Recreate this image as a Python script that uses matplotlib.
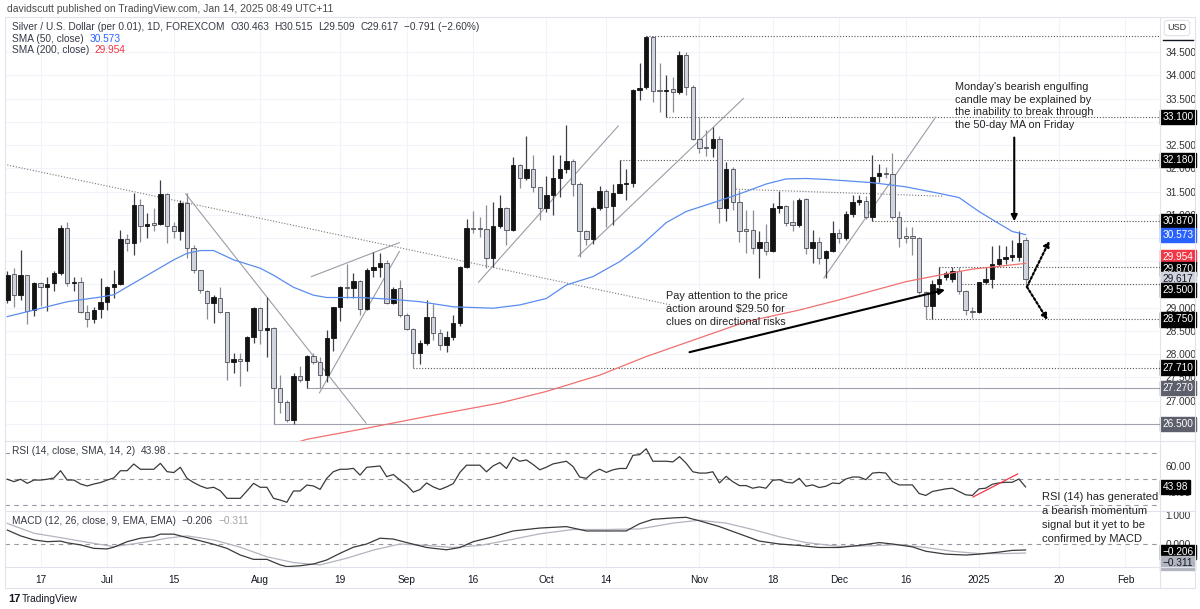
import numpy as np
import pandas as pd
import matplotlib
matplotlib.use('Agg')
import matplotlib.pyplot as plt

plt.rcParams['font.family'] = ['Liberation Sans', 'DejaVu Sans']

# Silver / USD daily bars, 10 Jun 2024 - 13 Jan 2025 (no bars on 25 Dec and 1 Jan)
dates = pd.bdate_range('2024-06-10', '2025-01-13')
dates = dates[~dates.isin(pd.to_datetime(['2024-12-25', '2025-01-01']))]

opens = [29.17, 29.72, 29.28, 29.71, 28.95, 29.54, 29.45, 29.53, 29.74, 30.72,
         29.53, 29.56, 28.90, 28.75, 28.97, 29.13, 29.44, 29.51, 30.48, 30.39,
         31.20, 30.75, 30.80, 30.80, 31.44, 30.76, 30.66, 31.25, 30.28, 29.81,
         29.37, 29.11, 29.22, 28.90, 27.83, 27.90, 27.86, 28.38, 28.99, 28.52,
         28.56, 27.27, 26.98, 26.59, 27.54, 27.45, 27.96, 27.84, 27.55, 28.34,
         29.02, 29.44, 29.43, 29.58, 28.97, 29.81, 29.88, 29.97, 29.11, 29.42,
         28.84, 28.54, 28.03, 28.25, 28.81, 28.45, 28.20, 28.38, 28.67, 29.87,
         30.71, 30.71, 30.69, 30.06, 30.76, 31.15, 30.67, 32.08, 31.80, 31.99,
         31.59, 31.14, 31.42, 31.80, 31.99, 32.16, 31.66, 30.65, 30.47, 31.14,
         31.52, 31.18, 31.47, 31.66, 31.68, 33.68, 33.75, 34.83, 33.67, 33.66,
         33.70, 33.64, 34.44, 33.75, 32.63, 32.45, 32.43, 32.62, 31.14, 31.99,
         31.28, 30.68, 30.68, 30.28, 30.42, 30.23, 31.15, 31.19, 30.84, 30.78,
         31.33, 30.28, 30.42, 30.06, 30.22, 30.61, 30.49, 31.02, 31.28, 31.30,
         30.96, 31.83, 31.90, 31.87, 30.96, 30.53, 30.53, 30.51, 29.33, 29.04,
         29.50, 29.67, 29.61, 29.79, 29.37, 28.94, 28.90, 29.55, 29.61, 29.94,
         30.04, 30.10, 30.10, 30.463]
highs = [29.80, 29.85, 30.24, 29.71, 29.56, 29.56, 29.67, 29.78, 30.78, 30.85,
         29.67, 29.67, 29.06, 29.02, 29.63, 29.47, 29.81, 30.67, 30.59, 31.46,
         31.33, 31.03, 31.14, 31.75, 31.46, 30.85, 31.32, 31.46, 30.35, 29.81,
         29.38, 29.28, 29.44, 28.90, 28.02, 28.02, 28.39, 29.01, 29.01, 29.24,
         28.59, 27.55, 27.02, 27.59, 27.75, 27.98, 28.02, 27.95, 28.52, 29.02,
         29.47, 29.95, 29.74, 29.60, 29.85, 30.20, 30.17, 30.03, 29.44, 29.60,
         28.88, 28.56, 28.31, 29.17, 29.09, 28.55, 28.50, 28.85, 29.90, 30.90,
         31.07, 30.96, 31.21, 31.28, 31.42, 31.17, 32.25, 32.10, 32.69, 32.29,
         31.60, 31.83, 32.29, 32.29, 32.93, 32.19, 31.71, 30.67, 31.17, 31.62,
         31.55, 31.67, 32.18, 31.99, 33.70, 34.26, 34.84, 34.84, 34.26, 34.00,
         33.97, 34.52, 34.51, 33.79, 33.10, 32.82, 32.89, 32.69, 32.14, 32.03,
         31.53, 31.10, 31.10, 30.64, 30.81, 31.25, 31.52, 31.21, 31.32, 31.35,
         31.35, 30.67, 30.53, 30.24, 30.87, 30.70, 31.07, 31.42, 31.42, 31.40,
         32.28, 32.09, 32.03, 32.32, 31.09, 30.74, 30.74, 30.53, 29.35, 29.60,
         29.87, 29.80, 29.88, 29.87, 29.38, 29.02, 29.56, 29.88, 30.33, 30.35,
         30.33, 30.46, 30.64, 30.515]
lows = [29.10, 29.02, 29.17, 28.65, 28.83, 29.03, 28.92, 29.35, 29.71, 29.47,
        29.35, 28.88, 28.58, 28.68, 28.77, 28.95, 29.21, 29.49, 30.21, 30.14,
        30.42, 30.50, 30.64, 30.78, 30.39, 30.50, 30.46, 30.07, 29.74, 29.31,
        28.75, 28.67, 28.88, 27.45, 27.59, 27.32, 27.65, 28.25, 28.22, 27.95,
        26.50, 26.73, 26.55, 26.50, 27.41, 27.27, 27.80, 27.27, 27.41, 28.06,
        28.72, 29.20, 29.20, 28.84, 28.95, 29.67, 29.67, 29.09, 29.09, 28.81,
        28.52, 27.71, 27.79, 28.20, 28.30, 28.10, 28.05, 28.30, 28.60, 29.85,
        30.60, 30.53, 29.85, 29.88, 30.71, 30.35, 30.64, 31.57, 31.75, 31.50,
        30.89, 31.05, 30.99, 31.39, 31.90, 31.41, 30.10, 30.35, 30.38, 31.10,
        30.74, 30.78, 31.46, 31.32, 31.60, 33.47, 33.70, 33.43, 33.22, 33.10,
        33.22, 33.60, 33.57, 32.60, 32.32, 32.26, 32.25, 30.82, 30.87, 31.10,
        30.42, 30.18, 30.15, 29.65, 30.13, 30.20, 31.03, 30.75, 30.64, 30.73,
        30.15, 29.97, 29.95, 29.63, 30.20, 30.40, 30.45, 30.95, 31.20, 30.90,
        30.87, 31.71, 31.80, 30.90, 30.30, 30.40, 30.13, 29.30, 28.75, 28.75,
        29.42, 29.60, 29.55, 29.30, 28.85, 28.77, 28.88, 29.50, 29.42, 29.90,
        29.95, 30.00, 30.00, 29.509]
closes = [29.71, 29.28, 29.71, 28.94, 29.54, 29.44, 29.52, 29.74, 30.72, 29.53,
          29.56, 28.90, 28.75, 28.95, 29.13, 29.44, 29.51, 30.48, 30.39, 31.20,
          30.75, 30.80, 30.79, 31.44, 30.76, 30.66, 31.25, 30.28, 29.81, 29.38,
          29.11, 29.24, 28.90, 27.83, 27.90, 27.86, 28.38, 28.99, 28.52, 28.56,
          27.27, 26.98, 26.59, 27.53, 27.45, 27.96, 27.84, 27.55, 28.34, 29.02,
          29.44, 29.43, 29.58, 28.97, 29.81, 29.88, 29.97, 29.11, 29.40, 28.84,
          28.54, 28.03, 28.25, 28.81, 28.45, 28.20, 28.38, 28.67, 29.87, 30.71,
          30.69, 30.69, 30.06, 30.76, 31.15, 30.67, 32.08, 31.80, 31.99, 31.59,
          31.14, 31.42, 31.80, 31.99, 32.16, 31.66, 30.64, 30.47, 31.14, 31.52,
          31.17, 31.47, 31.66, 31.68, 33.68, 33.73, 34.83, 33.67, 33.66, 33.69,
          33.64, 34.44, 33.75, 32.63, 32.43, 32.43, 32.62, 31.14, 31.99, 31.28,
          30.66, 30.66, 30.28, 30.42, 30.23, 31.15, 31.19, 30.83, 30.78, 31.32,
          30.28, 30.42, 30.06, 30.22, 30.61, 30.49, 31.02, 31.28, 31.31, 30.96,
          31.82, 31.90, 31.87, 30.96, 30.51, 30.51, 30.51, 29.33, 29.04, 29.50,
          29.62, 29.74, 29.79, 29.37, 28.95, 28.90, 29.55, 29.61, 29.94, 30.04,
          30.10, 30.11, 30.40, 29.617]

# moving averages (bar index, value)
sma50_idx = [0, 4, 9, 14, 16, 19, 22, 25, 27, 29, 31, 34, 38, 40, 43, 46, 48, 53, 58, 62,
             67, 73, 77, 81, 84, 88, 92, 95, 99, 102, 105, 108, 111, 114, 117, 120, 123,
             126, 130, 135, 140, 143, 146, 149, 151, 153]
sma50_val = [28.81, 28.95, 29.13, 29.23, 29.28, 29.53, 29.78, 30.03, 30.17, 30.23, 30.23,
             30.03, 29.85, 29.70, 29.44, 29.27, 29.22, 29.22, 29.18, 29.13, 29.02, 28.99,
             29.06, 29.20, 29.49, 29.67, 29.99, 30.31, 30.83, 31.07, 31.21, 31.35, 31.50,
             31.66, 31.77, 31.78, 31.76, 31.73, 31.69, 31.60, 31.46, 31.37, 31.07, 30.81,
             30.64, 30.573]
sma200_idx = [40, 45, 54, 63, 74, 81, 89, 96, 104, 111, 119, 125, 135, 140, 145, 153]
sma200_val = [25.95, 26.17, 26.41, 26.66, 26.95, 27.20, 27.55, 27.95, 28.35, 28.70, 28.95,
              29.17, 29.56, 29.70, 29.83, 29.954]

rsi = [49.8, 48.0, 49.8, 46.7, 49.2, 49.2, 49.8, 50.8, 56.3, 49.2,
       49.2, 46.2, 44.7, 46.2, 47.3, 49.2, 50.8, 56.3, 56.3, 61.4,
       57.4, 57.4, 57.4, 61.9, 55.6, 54.9, 58.9, 50.5, 47.3, 44.7,
       42.9, 43.7, 41.1, 35.3, 35.3, 35.3, 40.9, 46.7, 43.7, 43.7,
       35.3, 34.0, 32.3, 40.9, 40.9, 45.4, 44.7, 42.1, 50.5, 55.6,
       57.4, 57.4, 58.1, 53.0, 58.9, 59.4, 59.9, 51.8, 53.4, 49.2,
       45.5, 40.0, 42.0, 47.0, 44.0, 42.0, 44.0, 46.5, 55.0, 60.5,
       60.5, 60.5, 55.5, 60.0, 62.5, 58.0, 66.5, 63.5, 64.5, 61.0,
       57.0, 59.0, 61.5, 62.5, 63.5, 59.5, 51.5, 50.5, 55.0, 57.5,
       55.0, 57.0, 58.0, 58.0, 68.0, 68.5, 73.0, 63.5, 63.5, 63.5,
       63.0, 67.0, 62.0, 55.5, 54.5, 54.5, 55.5, 47.0, 52.0, 48.0,
       45.0, 45.0, 43.0, 44.0, 43.0, 49.0, 49.5, 47.5, 47.0, 50.5,
       44.5, 45.5, 43.5, 44.5, 47.0, 46.5, 50.0, 51.5, 51.5, 49.5,
       54.5, 55.0, 54.5, 48.0, 45.5, 45.5, 45.5, 39.0, 37.5, 40.5,
       41.5, 42.5, 43.0, 40.5, 38.0, 37.5, 42.5, 43.0, 46.0, 47.0,
       47.5, 47.5, 50.0, 43.98]

macd_idx = [0, 2, 4, 6, 8, 9, 11, 13, 15, 16, 18, 20, 22, 23, 25, 26, 29, 31, 33, 35,
            37, 39, 41, 42, 44, 46, 48, 50, 52, 54, 56, 58, 60, 63, 66, 68, 70, 73, 76,
            80, 84, 87, 90, 93, 95, 97, 100, 102, 104, 107, 110, 113, 116, 119, 122,
            125, 128, 131, 133, 136, 138, 141, 144, 146, 149, 151, 153]
macd_val = [0.48, 0.28, 0.14, 0.08, 0.10, 0.04, -0.03, -0.15, -0.17, -0.11, 0.08, 0.20,
            0.25, 0.34, 0.34, 0.28, 0.11, -0.01, -0.15, -0.38, -0.53, -0.53, -0.72, -0.78,
            -0.75, -0.69, -0.55, -0.32, -0.11, 0.00, 0.20, 0.17, 0.05, -0.12, -0.20, -0.12,
            0.08, 0.25, 0.45, 0.55, 0.60, 0.45, 0.45, 0.45, 0.70, 0.85, 0.90, 0.92, 0.80,
            0.60, 0.35, 0.10, 0.00, -0.05, -0.12, -0.12, -0.05, 0.05, 0.00, -0.10, -0.25,
            -0.35, -0.38, -0.35, -0.28, -0.22, -0.206]
signal_idx = [0, 4, 8, 12, 16, 20, 24, 27, 31, 35, 39, 43, 47, 51, 55, 59, 63, 67, 71, 75,
              80, 85, 90, 95, 100, 104, 108, 112, 116, 120, 125, 130, 134, 138, 142, 146,
              150, 153]
signal_val = [0.71, 0.37, 0.22, 0.06, -0.09, 0.04, 0.20, 0.28, 0.14, -0.11, -0.44, -0.64,
              -0.72, -0.49, -0.21, 0.00, -0.05, -0.12, -0.05, 0.12, 0.35, 0.50, 0.50, 0.52,
              0.72, 0.82, 0.72, 0.50, 0.25, 0.05, -0.08, -0.06, -0.02, -0.12, -0.25, -0.33,
              -0.33, -0.311]

tick_labels = ['17', 'Jul', '15', 'Aug', '19', 'Sep', '16', 'Oct', '14', 'Nov', '18', 'Dec',
               '16', '2025', '20', 'Feb']
tick_dates = ['2024-06-17', '2024-07-01', '2024-07-15', '2024-08-01', '2024-08-19',
              '2024-09-02', '2024-09-16', '2024-10-01', '2024-10-14', '2024-11-01',
              '2024-11-18', '2024-12-02', '2024-12-16', '2025-01-02', '2025-01-20',
              '2025-02-03']
price_ticks = [27.0, 27.5, 28.0, 28.5, 29.0, 31.0, 31.5, 32.0, 32.5, 33.5, 34.0, 34.5]

# ---------------------------------------------------------------
W, H = 1200, 609
fig = plt.figure(figsize=(W / 100, H / 100), dpi=100)
fig.patch.set_facecolor('white')


def px_axes(x0, y0, x1, y1):
    return fig.add_axes([x0 / W, 1 - y1 / H, (x1 - x0) / W, (y1 - y0) / H])


def fx(x):
    return x / W


def fy(y):
    return 1 - y / H


# bar index of each tick date (future dates continue on business days)
n = len(dates)
tick_pos = []
for d in pd.to_datetime(tick_dates):
    if d <= dates[-1]:
        tick_pos.append(int(np.searchsorted(dates, d)))
    else:
        tick_pos.append(n - 1 + len(pd.bdate_range(dates[-1], d)) - 1)

X0, X1 = 5, 1160
xlim = (-0.35, 173.2)
grid_c = '#f0f3fa'
txt_c = '#131722'

ax = px_axes(X0, 17, X1, 441)
ax_rsi = px_axes(X0, 441, X1, 511)
ax_macd = px_axes(X0, 511, X1, 567)

for a in (ax, ax_rsi, ax_macd):
    a.set_xlim(*xlim)
    for s in a.spines.values():
        s.set_visible(False)
    a.set_xticks(tick_pos)
    a.tick_params(axis='both', length=0, labelsize=7.3, labelcolor='#333333')
    a.yaxis.tick_right()
    a.grid(True, color=grid_c, lw=0.8)
    a.set_axisbelow(True)
    a.set_facecolor('none')
    a.tick_params(axis='y', pad=4)
ax.tick_params(axis='x', labelbottom=False)
ax_rsi.tick_params(axis='x', labelbottom=False)
ax_macd.set_xticklabels(tick_labels)
ax_macd.tick_params(axis='x', pad=6, labelsize=7.3, labelcolor=txt_c)

# ---------------- main price pane ----------------
ax.set_ylim(26.134, 35.253)
ax.set_yticks(np.arange(26.5, 35.0, 0.5))
ax.set_yticklabels([f'{v:.3f}' if round(v, 1) in price_ticks else ''
                    for v in np.arange(26.5, 35.0, 0.5)])

o = np.array(opens); h = np.array(highs); l = np.array(lows); c = np.array(closes)
x = np.arange(n)
up = c >= o
ax.vlines(x[up], l[up], h[up], color='#3c3f48', lw=0.9, zorder=3)
ax.vlines(x[~up], l[~up], h[~up], color='#8a8d96', lw=0.9, zorder=3)
body_lo = np.minimum(o, c)
body_h = np.maximum(np.abs(c - o), 0.025)
ax.bar(x[up], body_h[up], bottom=body_lo[up], width=0.66, color='#131313',
       edgecolor='#131313', lw=0.6, zorder=4)
ax.bar(x[~up], body_h[~up], bottom=body_lo[~up], width=0.66, color='#d1d4dc',
       edgecolor='#4a4d56', lw=0.6, zorder=4)

ax.plot(sma50_idx, sma50_val, color='#5b8cf0', lw=0.9, zorder=5)
ax.plot(sma200_idx, sma200_val, color='#f07070', lw=0.9, zorder=5)

# horizontal levels (start bar, price, style)
dot = (0, (1, 1.6))
levels = [(96, 34.84, 'dot'), (99, 33.10, 'dot'), (92, 32.18, 'dot'), (130, 30.87, 'dot'),
          (140, 29.87, 'dot'), (143, 29.50, 'dot'), (138, 28.75, 'dot'), (61, 27.71, 'dot'),
          (45, 27.27, 'solid'), (40, 26.50, 'solid')]
for i0, p, st in levels:
    if st == 'dot':
        ax.plot([i0, xlim[1]], [p, p], color='#555555', lw=0.8, ls=dot, zorder=2)
    else:
        ax.plot([i0, xlim[1]], [p, p], color='#a0a3ab', lw=0.8, zorder=2)

# trend lines drawn on the chart
trends = [(0, 32.07, 99.7, 29.06, 'dot'), (26.8, 31.45, 53.9, 26.52, 'solid'),
          (45.7, 29.67, 58.9, 30.40, 'solid'), (46.9, 27.17, 58.9, 30.21, 'solid'),
          (70.8, 29.55, 91.8, 32.91, 'solid'), (85.8, 30.11, 110.6, 33.50, 'solid'),
          (122.7, 29.64, 139.5, 33.10, 'solid'), (109.5, 31.55, 140.6, 31.40, 'dot')]
for i0, p0, i1, p1, st in trends:
    if st == 'dot':
        ax.plot([i0, i1], [p0, p1], color='#777777', lw=0.8, ls=dot, zorder=2)
    else:
        ax.plot([i0, i1], [p0, p1], color='#9a9da5', lw=0.8, zorder=2)

# arrows
ax.annotate('', xy=(151.3, 30.80), xytext=(151.3, 32.72),
            arrowprops=dict(arrowstyle='-|>', color='black', lw=1.5, mutation_scale=9), zorder=6)
ax.annotate('', xy=(141.3, 29.40), xytext=(102.1, 28.03),
            arrowprops=dict(arrowstyle='-|>', color='black', lw=1.5, mutation_scale=9), zorder=6)
for end in [(156.6, 30.44), (156.3, 28.74)]:
    ax.annotate('', xy=end, xytext=(153.2, 29.45),
                arrowprops=dict(arrowstyle='-|>', color='black', lw=1.6, ls=(0, (1, 1)),
                                mutation_scale=8, shrinkA=0, shrinkB=0), zorder=6)

ax.text(142.4, 33.85, "Monday's bearish engulfing\ncandle may be explained by\n"
        "the inability to break through\nthe 50-day MA on Friday",
        fontsize=7.8, color='#222222', va='top', ha='left', linespacing=1.32, zorder=7)
ax.text(98.9, 29.36, "Pay attention to the price\naction around $29.50 for\n"
        "clues on directional risks",
        fontsize=7.8, color='#222222', va='top', ha='left', linespacing=1.35, zorder=7)

# ---------------- RSI pane ----------------
ax_rsi.set_ylim(25.67, 78.9)
ax_rsi.set_yticks([40, 60])
ax_rsi.set_yticklabels(['40.00', '60.00'])
ax_rsi.grid(False, axis='y')
for v in (70, 50, 30):
    ax_rsi.axhline(v, color='#9598a1', lw=0.8, ls=(0, (4, 4)), zorder=1)
ax_rsi.plot(x, rsi, color='#3a3a3a', lw=0.9, zorder=4)
ax_rsi.plot([145.1, 151.8], [36.3, 53.8], color='#f23645', lw=0.9, zorder=5)

# ---------------- MACD pane ----------------
ax_macd.set_ylim(-0.793, 1.138)
ax_macd.set_yticks([0, 1])
ax_macd.set_yticklabels(['0.000', '1.000'])
ax_macd.grid(False, axis='y')
ax_macd.axhline(0, color='#9598a1', lw=0.8, ls=(0, (4, 4)), zorder=1)
ax_macd.plot(signal_idx, signal_val, color='#b2b5be', lw=0.9, zorder=3)
ax_macd.plot(macd_idx, macd_val, color='#3a3a3a', lw=0.9, zorder=4)

# ---------------- right scale labels with boxes ----------------
boxes_main = [(33.10, 33.10, '#000000', 'white'), (32.18, 32.18, '#000000', 'white'),
              (30.87, 30.87, '#000000', 'white'), (30.573, 30.56, '#2962ff', 'white'),
              (29.954, 30.09, '#f23645', 'white'), (29.87, 29.83, '#000000', 'white'),
              (29.617, 29.61, '#d1d4dc', '#131722'), (29.50, 29.38, '#000000', 'white'),
              (28.75, 28.75, '#000000', 'white'), (27.71, 27.71, '#000000', 'white'),
              (27.27, 27.27, '#5d606b', 'white'), (26.50, 26.50, '#5d606b', 'white')]


def price_box(a, yv, text, bg, fg):
    a.text(1.0 + 2.5 / (X1 - X0), yv, text, transform=a.get_yaxis_transform(),
           fontsize=7.3, color=fg, ha='left', va='center', zorder=10, clip_on=False,
           bbox=dict(boxstyle='square,pad=0.22', fc=bg, ec=bg))


for val, ypos, bg, fg in boxes_main:
    price_box(ax, ypos, f'{val:.3f}', bg, fg)
price_box(ax_rsi, 43.98, '43.98', '#000000', 'white')
price_box(ax_macd, -0.28, '\u22120.206', '#000000', 'white')
price_box(ax_macd, -0.65, '\u22120.311', '#b2b5be', '#131722')

# ---------------- legends ----------------
leg_c = '#363a45'


def legend_row(y, label, values, bg=False):
    kw = dict(bbox=dict(fc='white', ec='none', pad=1)) if bg else {}
    prev = fig.text(fx(12), fy(y), label, fontsize=7.3, color=leg_c, va='center', **kw)
    for val, col in values:
        prev = fig.add_artist(plt.Annotation(val, xy=(1, 0.5), xycoords=prev,
                                             xytext=(4, 0), textcoords='offset points',
                                             fontsize=7.3, color=col, va='center',
                                             ha='left', **kw))


legend_row(27, 'Silver / U.S. Dollar (per 0.01), 1D, FOREXCOM', [
    ('O30.463', leg_c), ('H30.515', leg_c), ('L29.509', leg_c), ('C29.617', leg_c),
    ('\u22120.791 (\u22122.60%)', leg_c)])
legend_row(38.5, 'SMA (50, close)', [('30.573', '#2962ff')])
legend_row(50, 'SMA (200, close)', [('29.954', '#f23645')])
legend_row(451, 'RSI (14, close, SMA, 14, 2)', [('43.98', leg_c)], bg=True)
legend_row(521, 'MACD (12, 26, close, 9, EMA, EMA)', [('\u22120.206', leg_c),
                                                      ('\u22120.311', '#a0a3ab')])

fig.text(fx(1042), fy(492), 'RSI (14) has generated\na bearish momentum\n'
         'signal but it yet to be\nconfirmed by MACD', fontsize=8, color='#222222',
         va='top', ha='left', linespacing=1.5)

# header, frame, footer
fig.text(fx(7), fy(9), 'davidscutt published on TradingView.com, Jan 14, 2025 08:49 UTC+11',
         fontsize=7.5, color='#4a4a4a', va='center')
frame_c = '#e0e3eb'
fig.add_artist(plt.Rectangle((fx(5), fy(588)), fx(1190), (588 - 17) / H, transform=fig.transFigure,
                             fill=False, ec=frame_c, lw=0.8))
for yy in (441, 511, 567):
    fig.add_artist(plt.Line2D([fx(5), fx(1195)], [fy(yy), fy(yy)], color=frame_c, lw=0.8))
fig.add_artist(plt.Line2D([fx(1160), fx(1160)], [fy(17), fy(588)], color=frame_c, lw=0.8))
fig.text(fx(1177), fy(28), 'USD', fontsize=6.5, color='#333333', ha='center', va='center',
         bbox=dict(boxstyle='round,pad=0.35', fc='white', ec=frame_c, lw=0.8))
fig.add_artist(plt.Line2D([fx(1163), fx(1193)], [fy(40), fy(40)], color='#131722', lw=1.0))

fig.text(fx(8), fy(599), '17', fontsize=8, fontweight='bold', color='#131722', va='center')
fig.text(fx(22), fy(599), 'TradingView', fontsize=7.3, color='#131722', va='center')

fig.savefig('out.png', dpi=100, facecolor='white')
